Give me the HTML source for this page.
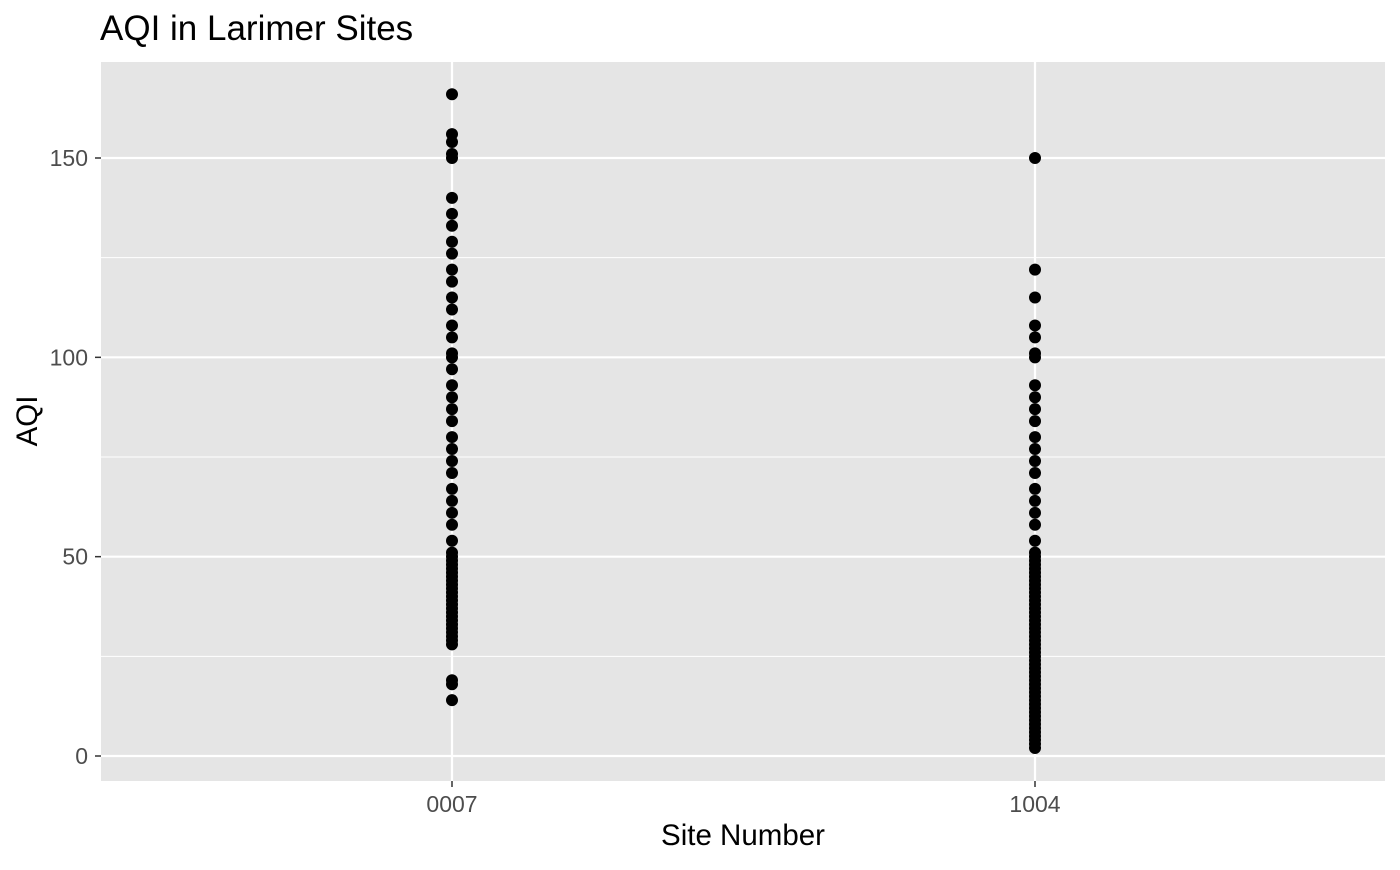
<!DOCTYPE html>
<html><head><meta charset="utf-8"><style>
body{margin:0;background:#fff;font-family:"Liberation Sans",Arial,sans-serif;}
</style></head><body>
<svg id="chart" width="1400" height="865" xmlns="http://www.w3.org/2000/svg" font-family="Liberation Sans, Arial, sans-serif">
<text x="100" y="40" font-size="35" fill="#000">AQI in Larimer Sites</text>
<rect x="101" y="62" width="1284" height="719" fill="#e5e5e5"/>
<g id="grid"></g><g id="pts"></g><g id="axes"></g>
<text x="743" y="845" font-size="29.5" text-anchor="middle">Site Number</text>
<text transform="translate(37,421) rotate(-90)" font-size="29.5" text-anchor="middle">AQI</text>
</svg>
<script>
const categories=["0007","1004"];
const site0007=[166,156,154,151,150,140,136,133,129,126,122,119,115,112,108,105,101,100,97,93,90,87,84,80,77,74,71,67,64,61,58,54,28,29,30,31,32,33,34,35,36,37,38,39,40,41,42,43,44,45,46,47,48,49,50,51,19,18,14];
const site1004=[150,122,115,108,105,101,100,93,90,87,84,80,77,74,71,67,64,61,58,54,2,3,4,5,6,7,8,9,10,11,12,13,14,15,16,17,18,19,20,21,22,23,24,25,26,27,28,29,30,31,32,33,34,35,36,37,38,39,40,41,42,43,44,45,46,47,48,49,50,51];
const yTicks=[0,50,100,150];
const yMinor=[25,75,125];
const NS="http://www.w3.org/2000/svg";
const y=v=>756-v*(598/150);
const x=i=>452+i*583;
function mk(tag,attrs,parent){const e=document.createElementNS(NS,tag);for(const k in attrs)e.setAttribute(k,attrs[k]);parent.appendChild(e);return e;}
const grid=document.getElementById('grid'),pts=document.getElementById('pts'),axes=document.getElementById('axes');
yMinor.forEach(v=>{const l=mk('line',{x1:101,x2:1385,y1:y(v),y2:y(v),stroke:'#fff','stroke-width':1},grid);

});
yTicks.forEach(v=>{const l=mk('line',{x1:101,x2:1385,y1:y(v),y2:y(v),stroke:'#fff','stroke-width':2.2},grid);


const t=mk('line',{x1:95,x2:101,y1:y(v),y2:y(v),stroke:'#333','stroke-width':1.5},axes);


const tx=mk('text',{x:88,y:y(v)+8,'font-size':23,fill:'#4d4d4d','text-anchor':'end'},axes);tx.textContent=v;

});
categories.forEach((c,i)=>{const l=mk('line',{x1:x(i),x2:x(i),y1:62,y2:781,stroke:'#fff','stroke-width':2.2},grid);


const t=mk('line',{x1:x(i),x2:x(i),y1:781,y2:787,stroke:'#333','stroke-width':1.5},axes);


const tx=mk('text',{x:x(i),y:812,'font-size':23,fill:'#4d4d4d','text-anchor':'middle'},axes);tx.textContent=c;

});
[site0007,site1004].forEach((s,i)=>s.forEach(v=>{const p=mk('circle',{cx:x(i),cy:y(v),r:6,fill:'#000'},pts);

}));
</script>
</body></html>
